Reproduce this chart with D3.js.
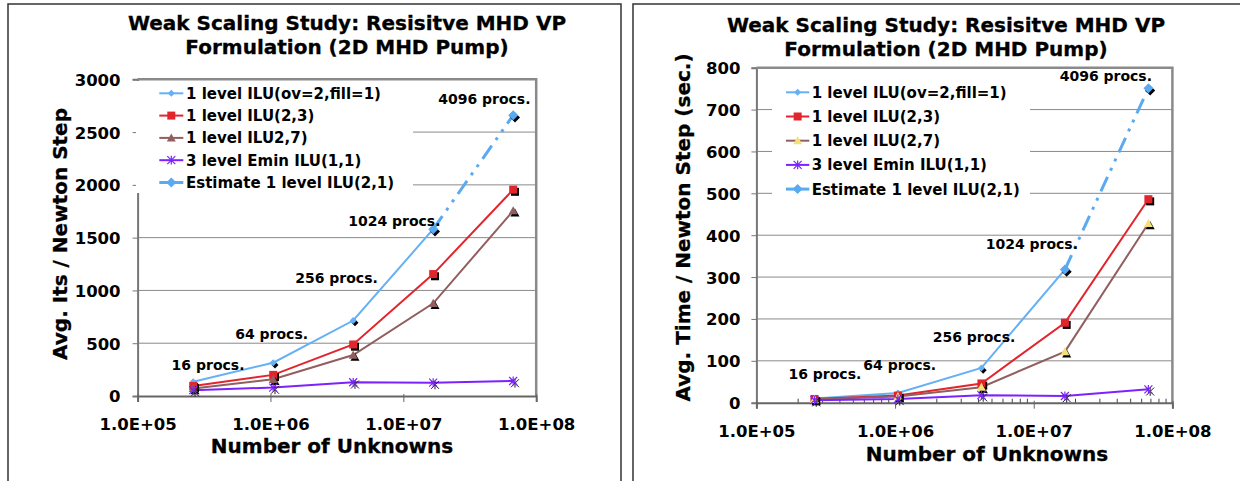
<!DOCTYPE html>
<html>
<head>
<meta charset="utf-8">
<script src="https://cdn.jsdelivr.net/npm/d3@7"></script>
<style>
body { margin: 0; background: #fff; }
svg text { font-family: "DejaVu Sans", Verdana, sans-serif; font-weight: bold; fill: #000; }
</style>
</head>
<body>
<svg id="chart" width="1240" height="481"></svg>
<script>
// ---- data ----
const unknowns = [262144, 1048576, 4194304, 16777216, 67108864];
const procLabels = ["16 procs.", "64 procs.", "256 procs.", "1024 procs.", "4096 procs."];
const xTicks = [1e5, 1e6, 1e7, 1e8];
const titleLines = ["Weak Scaling Study: Resisitve MHD VP", "Formulation (2D MHD Pump)"];

// left chart: iterations per Newton step
const itsNames = ["1 level ILU(ov=2,fill=1)", "1 level ILU(2,3)", "1 level ILU2,7)", "3 level Emin ILU(1,1)", "Estimate 1 level ILU(2,1)"];
const itsIlu21 = [135, 315, 715, 1580, null];
const itsIlu23 = [95, 200, 488, 1155, 1955];
const itsIlu27 = [72, 158, 388, 878, 1755];
const itsEmin = [55, 80, 130, 126, 142];
const itsEstimate = [null, null, null, 1580, 2660];

// right chart: time per Newton step (sec.)
const timeNames = ["1 level ILU(ov=2,fill=1)", "1 level ILU(2,3)", "1 level ILU(2,7)", "3 level Emin ILU(1,1)", "Estimate 1 level ILU(2,1)"];
const timeIlu21 = [10, 23, 83, 318, null];
const timeIlu23 = [9, 17, 46, 191, 486];
const timeIlu27 = [8, 15, 37, 122, 428];
const timeEmin = [6, 9, 18, 16, 32];
const timeEstimate = [null, null, null, 318, 751];

// ---- drawing ----
const svg = d3.select("#chart");

function markerPath(type, s) {
    const h = s / 2;
    if (type === "diamond") return `M0,${-h}L${h},0L0,${h}L${-h},0Z`;
    if (type === "square") return `M${-h},${-h}H${h}V${h}H${-h}Z`;
    if (type === "triangle") return `M0,${-h}L${h},${h * 0.8}L${-h},${h * 0.8}Z`;
    return `M${-h},${-h}L${h},${h}M${-h},${h}L${h},${-h}M0,${-h * 1.1}V${h * 1.1}`;
}

function fmtExp(d) {
    const e = Math.round(Math.log10(d));
    return "1.0E+" + String(e).padStart(2, "0");
}

function drawChart(cfg) {
    const g = svg.append("g");

    // panel frame
    g.append("path")
        .attr("d", `M${cfg.frame[0]},490V${cfg.frame[1]}H${cfg.frame[2]}V490`)
        .attr("fill", "none").attr("stroke", "#333").attr("stroke-width", 1.5);

    const x = d3.scaleLog().domain([1e5, 1e8]).range([cfg.x0, cfg.x1]);
    const y = d3.scaleLinear().domain([0, cfg.yMax]).range([cfg.y0, cfg.y1]);
    const yTicks = d3.range(0, cfg.yMax + 1, cfg.yStep);

    // title
    titleLines.forEach((t, i) => {
        g.append("text")
            .attr("x", cfg.titleX).attr("y", cfg.titleY[i])
            .attr("text-anchor", "middle").style("font-size", "20px")
            .style("stroke", "#000").style("stroke-width", 0.3)
            .text(t);
    });

    // gridlines
    g.selectAll(".grid").data(yTicks.slice(1)).enter().append("line")
        .attr("x1", cfg.x0).attr("x2", cfg.x1)
        .attr("y1", d => y(d)).attr("y2", d => y(d))
        .attr("stroke", "#8a8a8a").attr("stroke-width", 1);

    // y axis
    const yAxis = g.append("g")
        .attr("transform", `translate(${cfg.x0},0)`)
        .call(d3.axisLeft(y).tickValues(yTicks).tickFormat(d3.format("d")).tickSize(5).tickPadding(cfg.yPad));
    yAxis.select(".domain").attr("stroke", "#777").attr("stroke-width", 2);
    yAxis.selectAll(".tick line").attr("stroke", "#777");
    yAxis.selectAll("text").style("font-size", "16.5px").attr("dy", "0.36em")
        .style("font-family", "'DejaVu Sans', Verdana, sans-serif");

    // legend box (white, covers grid)
    const lg = cfg.legend;
    g.append("rect")
        .attr("x", lg.x).attr("y", lg.y).attr("width", lg.w).attr("height", lg.h)
        .attr("fill", "#fff");

    // plot border top/right
    g.append("path")
        .attr("d", `M${cfg.x0},${cfg.y1}H${cfg.x1}V${cfg.y0}`)
        .attr("fill", "none").attr("stroke", "#8a8a8a").attr("stroke-width", 2.5);

    // x axis
    const xAxis = g.append("g")
        .attr("transform", `translate(0,${cfg.y0})`)
        .call(d3.axisBottom(x).tickValues(xTicks).tickFormat(fmtExp).tickSize(6));
    xAxis.select(".domain").attr("stroke", "#666").attr("stroke-width", 2);
    xAxis.selectAll(".tick line").attr("stroke", "#666").attr("y1", -2);
    xAxis.selectAll("text").style("font-size", "16.5px").attr("y", cfg.xTickY - cfg.y0).attr("dy", null)
        .style("font-family", "'DejaVu Sans', Verdana, sans-serif");

    if (cfg.minor) {
        const minor = [];
        [1e5, 1e6, 1e7].forEach(dec => d3.range(2, 10).forEach(k => minor.push(dec * k)));
        g.selectAll(".minor").data(minor).enter().append("line")
            .attr("x1", d => x(d)).attr("x2", d => x(d))
            .attr("y1", cfg.y0 - 4).attr("y2", cfg.y0)
            .attr("stroke", "#444").attr("stroke-width", 1);
    }

    // axis titles
    g.append("text")
        .attr("x", cfg.xTitleX).attr("y", cfg.xTitleY)
        .attr("text-anchor", "middle").style("font-size", "20px")
        .style("stroke", "#000").style("stroke-width", 0.3)
        .text("Number of Unknowns");
    g.append("text")
        .attr("transform", `translate(${cfg.yTitleX},${cfg.yTitleY}) rotate(-90)`)
        .attr("text-anchor", "middle").style("font-size", "20px")
        .style("stroke", "#000").style("stroke-width", 0.3)
        .text(cfg.yTitle);

    // series
    const line = d3.line()
        .defined(d => d.v != null)
        .x(d => x(d.n)).y(d => y(d.v));

    cfg.series.forEach((vals, i) => {
        const st = cfg.styles[i];
        const pts = unknowns.map((n, j) => ({ n: n, v: vals[j] }));
        g.append("path")
            .datum(pts)
            .attr("d", line)
            .attr("fill", "none")
            .attr("stroke", st.color)
            .attr("stroke-width", st.width)
            .attr("stroke-dasharray", st.dash || null);
    });

    cfg.series.forEach((vals, i) => {
        const st = cfg.styles[i];
        const pts = unknowns.map((n, j) => ({ n: n, v: vals[j] })).filter(d => d.v != null);
        const isStar = st.marker === "star";
        // dark shadow marker
        g.selectAll(null).data(pts).enter().append("path")
            .attr("transform", d => `translate(${x(d.n) + 1.8},${y(d.v) + 2.2})`)
            .attr("d", markerPath(st.marker, st.size))
            .attr("fill", isStar ? "none" : "#000")
            .attr("stroke", isStar ? "#222" : "none")
            .attr("stroke-width", 1);
        g.selectAll(null).data(pts).enter().append("path")
            .attr("transform", d => `translate(${x(d.n)},${y(d.v)})`)
            .attr("d", markerPath(st.marker, st.size))
            .attr("fill", isStar ? "none" : (st.fill || st.color))
            .attr("stroke", isStar ? st.color : "none")
            .attr("stroke-width", 1.2);
    });

    // proc labels, placed relative to the top point at each size
    const top = unknowns.map((n, j) => d3.max(cfg.series, s => s[j]));
    g.selectAll(".proc").data(procLabels).enter().append("text")
        .attr("x", (d, j) => x(unknowns[j]) + cfg.labelOff[j][0])
        .attr("y", (d, j) => y(top[j]) + cfg.labelOff[j][1])
        .attr("dy", "0.36em")
        .style("font-size", "14px")
        .text(d => d);

    // legend entries
    cfg.names.forEach((name, i) => {
        const st = cfg.styles[i];
        const ry = lg.row0 + i * lg.rowH;
        const isStar = st.marker === "star";
        g.append("line")
            .attr("x1", lg.lx0).attr("x2", lg.lx1).attr("y1", ry).attr("y2", ry)
            .attr("stroke", st.color).attr("stroke-width", st.width);
        g.append("path")
            .attr("transform", `translate(${(lg.lx0 + lg.lx1) / 2},${ry})`)
            .attr("d", markerPath(st.marker, st.size))
            .attr("fill", isStar ? "none" : (st.fill || st.color))
            .attr("stroke", isStar ? st.color : "none")
            .attr("stroke-width", 1.2);
        g.append("text")
            .attr("x", lg.tx).attr("y", ry).attr("dy", "0.36em")
            .style("font-size", "15px")
            .text(name);
    });
}

const leftStyles = [
    { color: "#66b0f6", marker: "diamond", size: 7, width: 2 },
    { color: "#e2252d", marker: "square", size: 8, width: 2 },
    { color: "#915f5f", marker: "triangle", size: 9, width: 2 },
    { color: "#7d22ff", marker: "star", size: 8, width: 2 },
    { color: "#5aaaf2", marker: "diamond", size: 10, width: 3, dash: "16,7,3,7,3,7" }
];
const rightStyles = leftStyles.map(s => Object.assign({}, s));
rightStyles[2].fill = "#f3e07a";

drawChart({
    frame: [8, 4, 621],
    x0: 137.6, x1: 536.2, y0: 396, y1: 79.3,
    yMax: 3000, yStep: 500, yPad: 12,
    titleX: 347, titleY: [30, 54],
    xTickY: 430, xTitleX: 332, xTitleY: 453,
    yTitle: "Avg. Its / Newton Step", yTitleX: 66.5, yTitleY: 234,
    series: [itsIlu21, itsIlu23, itsIlu27, itsEmin, itsEstimate],
    names: itsNames,
    styles: leftStyles,
    minor: false,
    legend: { x: 136, y: 81, w: 277, h: 112, row0: 93.3, rowH: 22.3, lx0: 159.3, lx1: 183.3, tx: 186 },
    labelOff: [[-21.6, -16.7], [-38, -28.7], [-58, -42.7], [-85, -8.6], [-75, -16.7]]
});

drawChart({
    frame: [633, 4, 1250],
    x0: 756.4, x1: 1172.4, y0: 402.7, y1: 67.7,
    yMax: 800, yStep: 100, yPad: 11,
    titleX: 946, titleY: [32, 56],
    xTickY: 437, xTitleX: 987, xTitleY: 461,
    yTitle: "Avg. Time / Newton Step (sec.)", yTitleX: 690, yTitleY: 227.5,
    series: [timeIlu21, timeIlu23, timeIlu27, timeEmin, timeEstimate],
    names: timeNames,
    styles: rightStyles,
    minor: true,
    legend: { x: 772, y: 72, w: 258, h: 132, row0: 92.3, rowH: 24.2, lx0: 786, lx1: 809.3, tx: 811.7 },
    labelOff: [[-26, -25], [-34.6, -28.3], [-48.7, -30.8], [-79.2, -26], [-88.7, -12.2]]
});
</script>
</body>
</html>
